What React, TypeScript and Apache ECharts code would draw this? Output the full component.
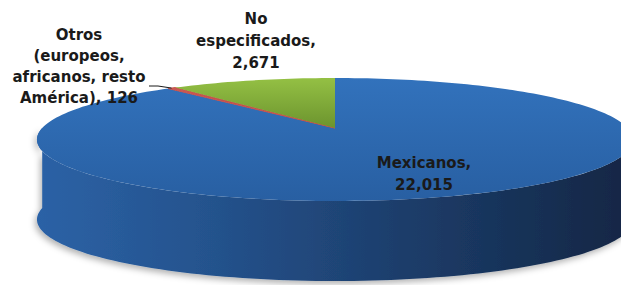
import React, { useEffect, useRef } from "react";
import * as echarts from "echarts";

// ---- data ----
const categories = ["Mexicanos", "Otros (europeos, africanos, resto América)", "No especificados"];
const values = [22015, 126, 2671];
const labelHeads = ["Mexicanos,\n", "Otros\n(europeos,\nafricanos, resto\nAmérica), ", "No\nespecificados,\n"];

// ---- geometry / style ----
const CX = 335;
const CY = 128;
const SX = 292.8;
const SY = 59.35;
const K = 0.187;
const DEPTH = 80;

const topFills = [
  { type: "linear", x: 0, y: 0, x2: 0, y2: 1, colorStops: [
    { offset: 0, color: "rgb(50,114,188)" },
    { offset: 1, color: "rgb(40,95,162)" },
  ] },
  { type: "linear", x: 0, y: 0, x2: 0, y2: 1, colorStops: [
    { offset: 0, color: "rgb(205,90,85)" },
    { offset: 1, color: "rgb(170,65,60)" },
  ] },
  { type: "linear", x: 0, y: 0, x2: 0, y2: 1, colorStops: [
    { offset: 0, color: "rgb(148,192,68)" },
    { offset: 1, color: "rgb(108,148,46)" },
  ] },
];
const sideFills = [
  { type: "linear", x: 0, y: 0, x2: 1, y2: 0, colorStops: [
    { offset: 0, color: "rgb(44,98,166)" },
    { offset: 0.3, color: "rgb(36,82,140)" },
    { offset: 0.6, color: "rgb(29,62,108)" },
    { offset: 1, color: "rgb(18,38,68)" },
  ] },
  "rgb(150,55,50)",
  "rgb(95,130,40)",
];

function proj(theta: number, dy: number): number[] {
  const u = Math.sin(theta);
  const w = Math.cos(theta);
  const s = 1 + K * w;
  return [CX + (SX * u) / s, CY - (SY * w) / s + dy];
}

function arc(a0: number, a1: number, dy: number): number[][] {
  const pts: number[][] = [];
  const n = Math.max(2, Math.ceil(((a1 - a0) / (2 * Math.PI)) * 240));
  for (let k = 0; k <= n; k++) pts.push(proj(a0 + ((a1 - a0) * k) / n, dy));
  return pts;
}

const total = values.reduce((a, b) => a + b, 0);
function angles(i: number): number[] {
  let start = 0;
  for (let j = 0; j < i; j++) start += values[j];
  return [(start / total) * 2 * Math.PI, ((start + values[i]) / total) * 2 * Math.PI];
}

export default function App() {
  const ref = useRef<HTMLDivElement>(null);
  useEffect(() => {
    if (!ref.current) return;
    const chart = echarts.init(ref.current, null, { renderer: "svg" });
    const otrosMid = (angles(1)[0] + angles(1)[1]) / 2;
    const otrosPt = proj(otrosMid, 0);
    const fmt = (v: number) => v.toLocaleString("en-US");
    const textStyle = {
      fill: "#1a1a1a",
      font: 'bold 15px "DejaVu Sans", sans-serif',
      align: "center",
      verticalAlign: "top",
      lineHeight: 22,
    };
    chart.setOption({
      animation: false,
      backgroundColor: "#ffffff",
      series: [
        {
          type: "custom",
          coordinateSystem: "none",
          z: 2,
          data: values.map((v, i) => ({ name: categories[i], value: [v] })),
          renderItem: (params: any) => {
            const i = params.dataIndex;
            const [a0, a1] = angles(i);
            const children: any[] = [];
            const s0 = Math.max(a0, Math.PI / 2);
            const s1 = Math.min(a1, (3 * Math.PI) / 2);
            if (s1 > s0) {
              const topArc = arc(s0, s1, 0);
              const botArc = arc(s0, s1, DEPTH).reverse();
              children.push({
                type: "polygon",
                z2: 1,
                shape: { points: topArc.concat(botArc) },
                style: {
                  fill: sideFills[i],
                  shadowColor: "rgba(0,0,0,0.3)",
                  shadowBlur: 6,
                  shadowOffsetX: -2,
                  shadowOffsetY: 3,
                },
              });
            }
            const pts = [[CX, CY]].concat(arc(a0, a1, 0));
            children.push({
              type: "polygon",
              z2: 10,
              shape: { points: pts },
              style: {
                fill: topFills[i],
                stroke: i === 1 ? "rgb(200,80,75)" : "none",
                lineWidth: i === 1 ? 1 : 0,
              },
            });
            return { type: "group", children };
          },
        },
      ],
      graphic: [
        {
          type: "text",
          z: 100,
          x: 424,
          y: 152,
          style: { ...textStyle, text: labelHeads[0] + fmt(values[0]) },
        },
        {
          type: "text",
          z: 100,
          x: 79,
          y: 24,
          style: { ...textStyle, lineHeight: 21, text: labelHeads[1] + fmt(values[1]) },
        },
        {
          type: "text",
          z: 100,
          x: 256,
          y: 8,
          style: { ...textStyle, text: labelHeads[2] + fmt(values[2]) },
        },
        {
          type: "polyline",
          z: 100,
          shape: { points: [[149, 86], [158, 86], [otrosPt[0], otrosPt[1]]] },
          style: { stroke: "#1a1a1a", lineWidth: 1, fill: "none" },
        },
      ],
    });
    return () => chart.dispose();
  }, []);
  return (
    <div
      ref={ref}
      style={{ position: "fixed", left: 0, top: 0, width: 621, height: 285 }}
    />
  );
}
